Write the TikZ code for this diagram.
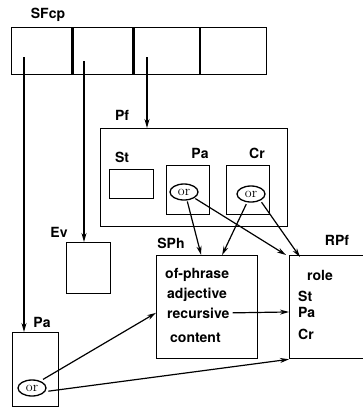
\documentclass[tikz,border=0pt]{standalone}
\usepackage{fontspec}
\setsansfont{TeX Gyre Heros}
\usetikzlibrary{shapes.geometric, arrows.meta}

\begin{document}
\begin{tikzpicture}[
  x=1pt, y=-1pt,
  every node/.style={font=\sffamily\bfseries\fontsize{14}{16}\selectfont},
  box/.style={rectangle, draw, line width=1.3pt, anchor=north west, inner sep=0pt},
  lbl/.style={inner sep=0pt, anchor=base},
  txt/.style={inner sep=0pt, anchor=base west},
  ornode/.style={ellipse, draw, line width=1.3pt, minimum width=28pt, minimum height=16pt, inner sep=0pt, font=\rmfamily\fontsize{14}{16}\selectfont},
  arrow/.style={-{Stealth[length=9pt, width=5pt]}, line width=1.2pt}
]
\useasboundingbox (0,0) rectangle (363,408);

% SFcp frame
\node[box, minimum width=60pt, minimum height=47pt] (cell1) at (11,27) {};
\node[box, minimum width=60pt, minimum height=47pt] (cell2) at (cell1.north east) {};
\node[box, minimum width=65pt, minimum height=47pt] (cell3) at (cell2.north east) {};
\node[box, minimum width=66pt, minimum height=47pt] (cell4) at (cell3.north east) {};
\node[lbl] (sfcp) at ([shift={(37,-9)}]cell1.north west) {SFcp};
\coordinate (c1) at (24,57);
\coordinate (c2) at (84,61);
\coordinate (c3) at (147,57);

% Pf frame
\node[box, minimum width=187pt, minimum height=98pt] (pf) at (100,128) {};
\node[lbl] (pflbl) at ([shift={(22,-8)}]pf.north west) {Pf};
\node[box, minimum width=44pt, minimum height=29pt] (st) at (109,169) {};
\node[lbl] (stlbl) at ([shift={(13,-7)}]st.north west) {St};
\node[box, minimum width=43pt, minimum height=49pt] (pa) at (166,165) {};
\node[lbl] (palbl) at ([shift={(34,-7)}]pa.north west) {Pa};
\node[ornode] (paor) at (184,192) {or};
\node[box, minimum width=43pt, minimum height=49pt] (cr) at (226,165) {};
\node[lbl] (crlbl) at ([shift={(31,-7)}]cr.north west) {Cr};
\node[ornode] (cror) at (251,194) {or};

% Ev
\node[box, minimum width=44pt, minimum height=51pt] (ev) at (66,242) {};
\node[lbl] (evlbl) at ([shift={(-7,-5)}]ev.north west) {Ev};

% SPh
\node[box, minimum width=101pt, minimum height=103pt] (sph) at (156,255) {};
\node[lbl] (sphlbl) at ([shift={(15,-7)}]sph.north west) {SPh};
\node[txt] (sphof) at ([shift={(9,23)}]sph.north west) {of-phrase};
\node[txt] (sphadj) at ([shift={(11,43)}]sph.north west) {adjective};
\node[txt] (sphrec) at ([shift={(11,63)}]sph.north west) {recursive};
\node[txt] (sphcon) at ([shift={(14,87)}]sph.north west) {content};

% RPf
\node[box, minimum width=84pt, minimum height=103pt] (rpf) at (289,255) {};
\node[lbl] (rpflbl) at ([shift={(48,-10)}]rpf.north west) {RPf};
\node[txt] (rpfrole) at ([shift={(18,25)}]rpf.north west) {role};
\node[txt] (rpfst) at ([shift={(9,46)}]rpf.north west) {St};
\node[txt] (rpfpa) at ([shift={(9,62)}]rpf.north west) {Pa};
\node[txt] (rpfcr) at ([shift={(9,84)}]rpf.north west) {Cr};

% Pa (bottom)
\node[box, minimum width=46pt, minimum height=74pt] (pab) at (12,332) {};
\node[lbl] (pablbl) at ([shift={(30,-5)}]pab.north west) {Pa};
\node[ornode] (pabor) at (32,388) {or};

% Arrows
\draw[arrow] (c1) -- (c1 |- pab.north);
\draw[arrow] (c2) -- (c2 |- ev.north);
\draw[arrow] (c3) -- (c3 |- pf.north);
\draw[arrow, shorten <=1pt] (paor.-70) -- ([xshift=-6pt]sph.north);
\draw[arrow, shorten <=1pt] (paor.-30) -- ([xshift=-3pt]rpf.north west);
\draw[arrow, shorten <=2pt] (cror.-115) -- ([xshift=15pt]sph.north);
\draw[arrow, shorten <=2pt] (cror.-35) -- ([xshift=11pt,yshift=-2pt]rpf.north west);
\draw[arrow] ([xshift=3pt]sphrec.east) -- (rpfpa.west -| rpf.west);
\draw[arrow, shorten <=3pt] (pabor.40) -- (sphrec.west -| sph.west);
\draw[arrow, shorten <=3pt] (pabor.-15) -- (rpf.south west);

\end{tikzpicture}
\end{document}
